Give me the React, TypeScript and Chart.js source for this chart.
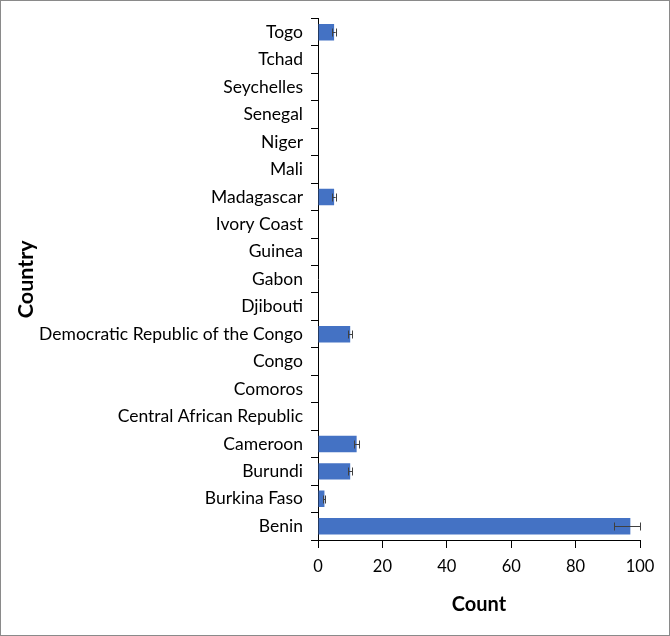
import { useEffect, useRef } from "react";
import { Chart, registerables } from "chart.js";
Chart.register(...registerables);

const countries = [
  "Benin",
  "Burkina Faso",
  "Burundi",
  "Cameroon",
  "Central African Republic",
  "Comoros",
  "Congo",
  "Democratic Republic of the Congo",
  "Djibouti",
  "Gabon",
  "Guinea",
  "Ivory Coast",
  "Madagascar",
  "Mali",
  "Niger",
  "Senegal",
  "Seychelles",
  "Tchad",
  "Togo",
];
const counts = [97, 2, 10, 12, 0, 0, 0, 10, 0, 0, 0, 0, 5, 0, 0, 0, 0, 0, 5];
const errMinus = [5, 0.3, 0.6, 0.8, 0, 0, 0, 0.6, 0, 0, 0, 0, 0.5, 0, 0, 0, 0, 0, 0.5];
const errPlus = [3, 0.3, 0.6, 0.8, 0, 0, 0, 0.6, 0, 0, 0, 0, 0.5, 0, 0, 0, 0, 0, 0.5];
const xMin = 0;
const xMax = 100;
const xStep = 20;

const FONT = "Lato, 'Open Sans', sans-serif";

const errorBarPlugin = {
  id: "errorBars",
  afterDatasetsDraw(chart: any) {
    const { ctx, scales } = chart;
    const xs = scales.x;
    const ys = scales.y;
    ctx.save();
    ctx.strokeStyle = "#404040";
    ctx.lineWidth = 1;
    for (let i = 0; i < counts.length; i++) {
      if (!errMinus[i] && !errPlus[i]) continue;
      const y = Math.round(ys.getPixelForValue(i)) + 0.5;
      const x1 = xs.getPixelForValue(counts[i] - errMinus[i]);
      const x2 = xs.getPixelForValue(counts[i] + errPlus[i]);
      const cap = 4;
      ctx.beginPath();
      ctx.moveTo(x1, y);
      ctx.lineTo(x2, y);
      ctx.moveTo(Math.round(x1) + 0.5, y - cap);
      ctx.lineTo(Math.round(x1) + 0.5, y + cap);
      ctx.moveTo(Math.round(x2) + 0.5, y - cap);
      ctx.lineTo(Math.round(x2) + 0.5, y + cap);
      ctx.stroke();
    }
    ctx.restore();
  },
};

const framePlugin = {
  id: "frame",
  beforeDraw(chart: any) {
    const { ctx, width, height } = chart;
    ctx.save();
    ctx.fillStyle = "#ffffff";
    ctx.fillRect(0, 0, width, height);
    ctx.restore();
  },
  afterDraw(chart: any) {
    const { ctx, width, height } = chart;
    ctx.save();
    ctx.strokeStyle = "#8a8a8a";
    ctx.lineWidth = 1;
    ctx.strokeRect(0.5, 0.5, width - 1, height - 1);
    ctx.restore();
  },
};

export default function App() {
  const ref = useRef<HTMLCanvasElement | null>(null);
  useEffect(() => {
    if (!ref.current) return;
    const chart = new Chart(ref.current, {
      type: "bar",
      data: {
        labels: countries,
        datasets: [
          {
            label: "Count",
            data: counts,
            backgroundColor: "#4472C4",
            borderWidth: 0,
            barPercentage: 0.6,
            categoryPercentage: 1,
          },
        ],
      },
      options: {
        indexAxis: "y",
        responsive: false,
        animation: false,
        maintainAspectRatio: false,
        layout: { padding: { top: 17, right: 30, bottom: 0, left: 0 } },
        plugins: {
          legend: { display: false },
          tooltip: { enabled: false },
        },
        scales: {
          y: {
            type: "category",
            reverse: true,
            offset: true,
            grid: {
              offset: true,
              drawOnChartArea: false,
              drawTicks: true,
              tickLength: 7,
              color: "#000",
            },
            border: { display: true, color: "#000", width: 1 },
            ticks: {
              autoSkip: false,
              padding: 8,
              color: "#000",
              font: { family: FONT, size: 17.5 },
            },
            title: {
              display: true,
              text: "Country",
              color: "#000",
              font: { family: FONT, size: 21.5, weight: "bold" },
              padding: { top: 13, bottom: 0 },
            },
            afterFit: (s: any) => {
              s.width = 318;
            },
          },
          x: {
            type: "linear",
            min: xMin,
            max: xMax,
            ticks: {
              stepSize: xStep,
              padding: 9,
              color: "#000",
              font: { family: FONT, size: 16.5 },
            },
            grid: {
              drawOnChartArea: false,
              drawTicks: true,
              tickLength: 8,
              color: "#000",
            },
            border: { display: true, color: "#000", width: 1 },
            title: {
              display: true,
              text: "Count",
              color: "#000",
              font: { family: FONT, size: 20, weight: "bold" },
              padding: { top: 0, bottom: 19 },
            },
            afterFit: (s: any) => {
              s.height = 96;
            },
          },
        },
      } as any,
      plugins: [errorBarPlugin, framePlugin],
    });
    return () => chart.destroy();
  }, []);
  return (
    <div style={{ position: "fixed", left: 0, top: 0, width: 670, height: 636 }}>
      <canvas ref={ref} width={670} height={636} style={{ width: 670, height: 636, display: "block" }} />
    </div>
  );
}
